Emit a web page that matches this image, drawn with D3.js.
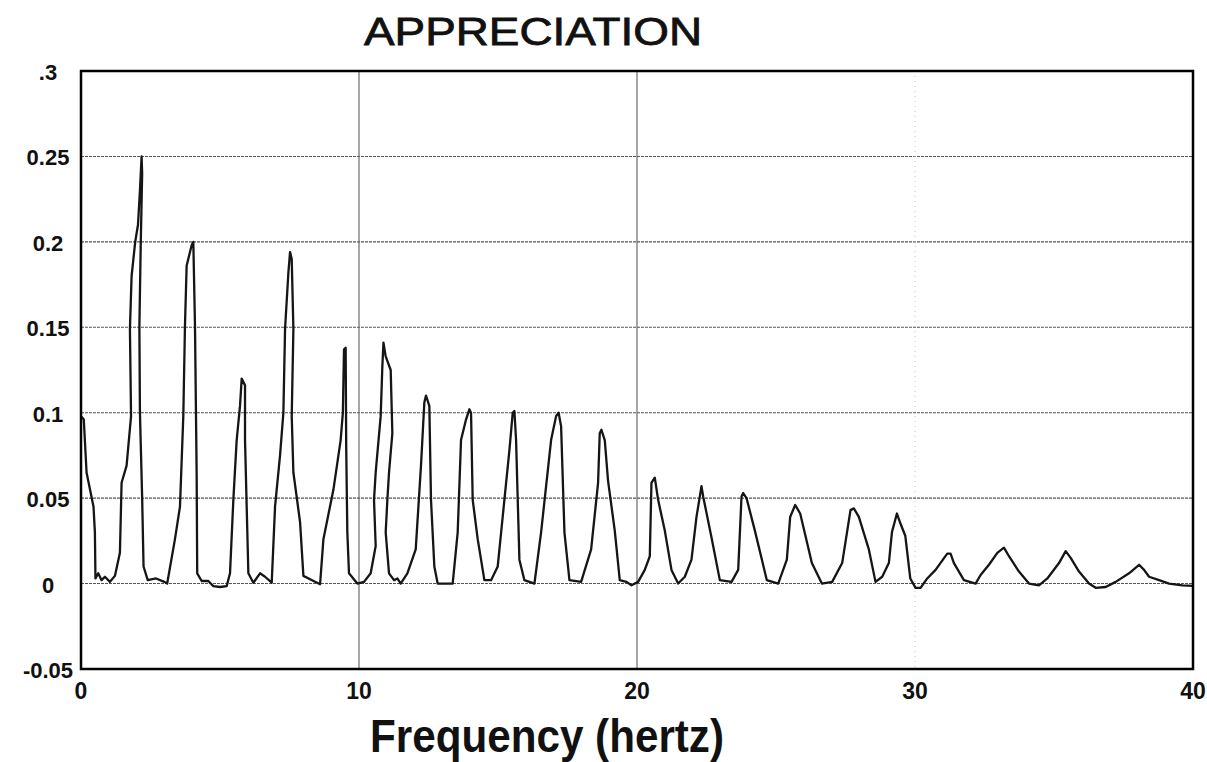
<!DOCTYPE html>
<html>
<head>
    <script src="https://d3js.org/d3.v7.min.js"></script>
    <style>
        body {
            margin: 0;
            background: #fff;
            font-family: 'Liberation Sans', Arial, sans-serif;
        }

        .tick-label {
            font-weight: bold;
            fill: #111;
        }
    </style>
</head>

<body>
    <script>
        // spectrum (frequency in Hz, amplitude)
        const freq = [
            0, 0.1, 0.2, 0.45, 0.5, 0.52, 0.62, 0.74, 0.86, 1.04, 1.22, 1.4, 1.46, 1.64, 1.8, 1.76, 1.82, 1.95, 2.05, 2.12, 2.18,
            2.2, 2.15, 2.1, 2.12, 2.2, 2.25, 2.4, 2.7, 3.0, 3.1,
            3.38, 3.56, 3.68, 3.74, 3.8, 3.98, 4.04, 4.1, 4.16, 4.18, 4.34, 4.58, 4.76, 5.0, 5.24, 5.36,
            5.48, 5.6, 5.72, 5.78, 5.9, 5.9, 5.96, 6.02, 6.2, 6.44, 6.62, 6.86,
            6.98, 7.16, 7.28, 7.34, 7.46, 7.52, 7.58, 7.64, 7.58, 7.64, 7.88, 8.0, 8.24, 8.6,
            8.72, 9.08, 9.34, 9.42, 9.46, 9.52, 9.54, 9.58, 9.64, 9.94, 10.18, 10.42, 10.6, 10.54,
            10.6, 10.78, 10.84, 10.88, 10.96, 11.14, 11.2, 11.08, 11.02, 10.96, 11.08, 11.26, 11.38, 11.5, 11.74,
            12.04, 12.23, 12.35, 12.41, 12.53, 12.59, 12.71, 12.83, 13.37,
            13.55, 13.67, 13.85, 13.97, 14.03, 14.09, 14.27, 14.51, 14.75, 14.99,
            15.23, 15.41, 15.53, 15.59, 15.65, 15.77, 15.95, 16.31,
            16.55, 16.91, 17.09, 17.18, 17.27, 17.39, 17.57, 17.99,
            18.35, 18.6, 18.66, 18.72, 18.84, 18.96, 19.2, 19.38, 19.62, 19.8, 20.04, 20.28, 20.46,
            20.52, 20.64, 20.76, 21.0, 21.24, 21.48, 21.72, 21.96,
            22.14, 22.32, 22.38, 22.68, 22.98, 23.4, 23.64,
            23.76, 23.82, 23.94, 24.24, 24.67, 25.08, 25.39,
            25.51, 25.69, 25.87, 26.29, 26.65, 27.02, 27.38,
            27.68, 27.8, 27.98, 28.34, 28.58, 28.82, 29.06,
            29.17, 29.35, 29.48, 29.65, 29.83, 30.02, 30.2, 30.44, 30.74,
            31.16, 31.28, 31.4, 31.76, 32.18, 32.36, 32.66, 32.96, 33.2, 33.38, 33.74, 34.1, 34.46, 34.76,
            35.18, 35.42, 35.6, 35.9, 36.26, 36.5, 36.86, 37.22, 37.7, 38.06, 38.24, 38.42, 38.78, 39.14, 39.62, 40
        ];

        const amplitude = [
            0.098, 0.096, 0.065, 0.045, 0.03, 0.003, 0.006, 0.002, 0.004, 0.001, 0.0045, 0.018, 0.059, 0.069, 0.098, 0.149, 0.18, 0.2, 0.21, 0.23, 0.25,
            0.24, 0.2, 0.15, 0.1, 0.05, 0.01, 0.002, 0.003, 0.001, 0,
            0.026, 0.045, 0.098, 0.151, 0.186, 0.198, 0.2, 0.151, 0.065, 0.006, 0.0015, 0.0015, -0.0015, -0.002, -0.0015, 0.006,
            0.049, 0.084, 0.104, 0.12, 0.116, 0.084, 0.045, 0.006, 0.0005, 0.006, 0.004, 0.0005,
            0.045, 0.075, 0.1, 0.149, 0.182, 0.194, 0.19, 0.149, 0.098, 0.065, 0.036, 0.0045, 0.0025, -0.0004,
            0.026, 0.055, 0.084, 0.1, 0.137, 0.138, 0.08, 0.03, 0.006, 0, 0.001, 0.006, 0.022, 0.049,
            0.065, 0.098, 0.127, 0.141, 0.133, 0.125, 0.088, 0.065, 0.049, 0.03, 0.006, 0.002, 0.003, 0, 0.006,
            0.02, 0.069, 0.106, 0.11, 0.104, 0.049, 0.01, 0, 0,
            0.03, 0.084, 0.096, 0.102, 0.1, 0.049, 0.026, 0.002, 0.002, 0.01,
            0.049, 0.078, 0.1, 0.101, 0.084, 0.014, 0.002, 0,
            0.03, 0.084, 0.098, 0.1, 0.092, 0.03, 0.002, 0.001,
            0.02, 0.059, 0.088, 0.09, 0.084, 0.06, 0.031, 0.002, 0.001, -0.001, 0.001, 0.008, 0.016,
            0.059, 0.062, 0.049, 0.031, 0.008, 0, 0.004, 0.014,
            0.039, 0.057, 0.051, 0.027, 0.002, 0.001, 0.008,
            0.051, 0.053, 0.05, 0.031, 0.002, 0, 0.014,
            0.039, 0.046, 0.041, 0.012, 0, 0.001, 0.012,
            0.043, 0.044, 0.039, 0.02, 0.001, 0.004, 0.012,
            0.03, 0.041, 0.035, 0.028, 0.003, -0.0025, -0.0025, 0.003, 0.008,
            0.0175, 0.0175, 0.012, 0.002, 0, 0.005, 0.011, 0.018, 0.021, 0.016, 0.007, 0, -0.001, 0.003,
            0.012, 0.019, 0.015, 0.007, 0, -0.0025, -0.002, 0.001, 0.006, 0.011, 0.008, 0.004, 0.002, 0, -0.001, -0.0014
        ];

        const yTicks = [-0.05, 0, 0.05, 0.1, 0.15, 0.2, 0.25, 0.3];
        const yTickLabels = ['-0.05', '0', '0.05', '0.1', '0.15', '0.2', '0.25', '.3'];
        const xTicks = [0, 10, 20, 30, 40];
        const xTickLabels = ['0', '10', '20', '30', '40'];

        const width = 1207,
            height = 762,
            margin = {top: 71, right: 14, bottom: 93, left: 81};

        const x = d3.scaleLinear()
            .domain([0, 40])
            .range([margin.left, width - margin.right]);

        const y = d3.scaleLinear()
            .domain([-0.05, 0.3])
            .range([height - margin.bottom, margin.top]);

        const svg = d3.select('body').append('svg')
            .attr('width', width)
            .attr('height', height);

        // horizontal grid, dotted
        svg.append('g')
            .selectAll('line')
            .data(yTicks.filter(d => d > -0.05 && d < 0.3))
            .join('line')
            .attr('x1', x(0))
            .attr('x2', x(40))
            .attr('y1', d => y(d))
            .attr('y2', d => y(d))
            .attr('stroke', '#555')
            .attr('stroke-width', 1.1)
            .attr('stroke-dasharray', '3,1');

        // vertical grid: 10 and 20 solid, 30 very faint
        svg.append('g')
            .selectAll('line')
            .data(xTicks.filter(d => d > 0 && d < 40))
            .join('line')
            .attr('x1', d => x(d))
            .attr('x2', d => x(d))
            .attr('y1', y(0.3))
            .attr('y2', y(-0.05))
            .attr('stroke', d => d === 30 ? '#c8c8c8' : '#6a6a6a')
            .attr('stroke-width', d => d === 30 ? 1 : 1.2)
            .attr('stroke-dasharray', d => d === 30 ? '1,4' : null);

        const line = d3.line()
            .x(d => x(d[0]))
            .y(d => y(d[1]))
            .curve(d3.curveLinear);

        svg.append('path')
            .datum(d3.zip(freq, amplitude))
            .attr('fill', 'none')
            .attr('stroke', '#151515')
            .attr('stroke-width', 2.3)
            .attr('stroke-linejoin', 'round')
            .attr('d', line);

        // frame
        svg.append('rect')
            .attr('x', x(0))
            .attr('y', y(0.3))
            .attr('width', x(40) - x(0))
            .attr('height', y(-0.05) - y(0.3))
            .attr('fill', 'none')
            .attr('stroke', '#000')
            .attr('stroke-width', 2.5);

        // y tick labels
        svg.append('g')
            .selectAll('text')
            .data(yTicks)
            .join('text')
            .attr('class', 'tick-label')
            .attr('x', 48)
            .attr('y', d => y(d) + 9)
            .attr('text-anchor', 'middle')
            .style('font-size', '22px')
            .text((d, i) => yTickLabels[i]);

        // x tick labels
        svg.append('g')
            .selectAll('text')
            .data(xTicks)
            .join('text')
            .attr('class', 'tick-label')
            .attr('x', d => x(d))
            .attr('y', 699)
            .attr('text-anchor', 'middle')
            .style('font-size', '23px')
            .text((d, i) => xTickLabels[i]);

        svg.append('text')
            .attr('x', 533)
            .attr('y', 45)
            .attr('text-anchor', 'middle')
            .attr('textLength', 338)
            .attr('lengthAdjust', 'spacingAndGlyphs')
            .style('font-size', '39px')
            .style('fill', '#111')
            .style('stroke', '#111')
            .style('stroke-width', 0.8)
            .text('APPRECIATION');

        svg.append('text')
            .attr('x', 547)
            .attr('y', 752)
            .attr('text-anchor', 'middle')
            .attr('textLength', 354)
            .attr('lengthAdjust', 'spacingAndGlyphs')
            .style('font-size', '46px')
            .style('font-weight', 'bold')
            .style('fill', '#111')
            .text('Frequency (hertz)');
    </script>
</body>

</html>
